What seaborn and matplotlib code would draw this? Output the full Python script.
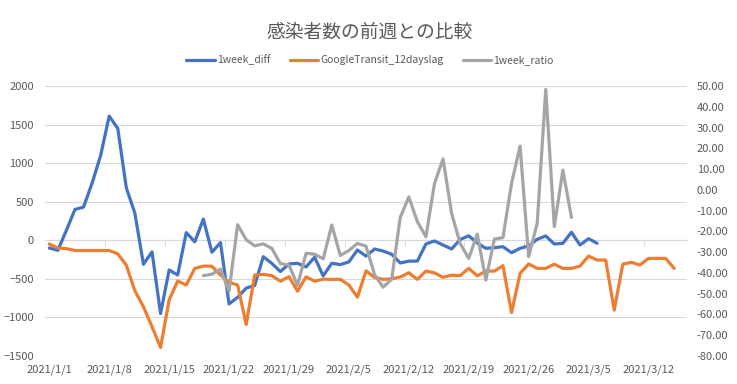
import numpy as np
import pandas as pd
import matplotlib
matplotlib.use("Agg")
import matplotlib.pyplot as plt
import matplotlib.dates as mdates
from matplotlib.ticker import FuncFormatter
import seaborn as sns

# -------------------------------
# Data
# -------------------------------
title = "感染者数の前週との比較"

# 1week_diff : 2021/1/1 - 2021/3/6 (left axis)
diff_start = "2021-01-01"
week_diff = [-100, -130, 130, 400, 430, 740, 1100, 1610, 1450, 680,
             350, -310, -150, -950, -385, -450, 100, -20, 275, -155,
             -30, -825, -740, -620, -585, -212, -300, -405, -307, -298,
             -345, -220, -462, -298, -315, -280, -126, -205, -113, -139,
             -181, -294, -270, -270, -48, -9, -61, -113, 10, 58,
             -35, -104, -96, -83, -161, -104, -74, 13, 56, -48,
             -39, 104, -61, 21, -39]

# GoogleTransit_12dayslag : 2021/1/1 - 2021/3/15 (right axis)
transit_start = "2021-01-01"
transit_lag = [-26.1, -28.0, -28.3, -29.2, -29.2, -29.2, -29.2, -29.2, -30.8, -36.3,
               -48.6, -56.3, -65.9, -75.9, -53.0, -43.9, -45.8, -37.8, -36.7, -36.8,
               -41.0, -44.5, -45.8, -64.8, -41.0, -40.7, -41.3, -44.0, -41.8, -48.8,
               -41.9, -44.0, -43.0, -43.1, -43.1, -45.8, -51.7, -39.0, -42.2, -43.1,
               -42.8, -42.0, -39.9, -43.1, -39.1, -40.0, -42.1, -41.1, -41.3, -37.8,
               -41.4, -39.1, -39.1, -36.5, -59.1, -40.2, -35.7, -37.8, -37.8, -35.8,
               -37.8, -37.8, -36.7, -31.9, -33.8, -33.8, -57.9, -35.8, -34.9, -36.2,
               -33.0, -33.0, -33.0, -37.8]

# 1week_ratio : 2021/1/19 - 2021/3/3 (right axis)
ratio_start = "2021-01-19"
week_ratio = [-41.3, -40.6, -38.2, -48.9, -16.8, -24.0, -27.0, -26.0, -28.2, -35.5,
              -36.2, -46.0, -30.5, -31.0, -33.2, -16.9, -31.6, -29.2, -25.8, -27.1,
              -40.8, -46.9, -43.0, -13.3, -3.4, -15.3, -22.6, 3.0, 14.9, -11.3,
              -25.8, -33.0, -21.3, -43.4, -23.7, -23.0, 3.1, 21.1, -32.2, -16.1,
              48.4, -17.7, 9.5, -13.3]

series_names = ["1week_diff", "GoogleTransit_12dayslag", "1week_ratio"]
colors = ["#4472C4", "#ED7D31", "#A5A5A5"]

left_ticks = np.arange(-1500, 2001, 500)
right_ticks = np.arange(-80, 51, 10)
axis_start = pd.Timestamp("2021-01-01")
n_days = 75   # 2021/1/1 .. 2021/3/16 on the category axis

df_diff = pd.DataFrame({"date": pd.date_range(diff_start, periods=len(week_diff)),
                        "value": week_diff})
df_transit = pd.DataFrame({"date": pd.date_range(transit_start, periods=len(transit_lag)),
                           "value": transit_lag})
df_ratio = pd.DataFrame({"date": pd.date_range(ratio_start, periods=len(week_ratio)),
                         "value": week_ratio})

# -------------------------------
# Plot
# -------------------------------
sns.set_theme(style="white")
plt.rcParams["font.family"] = ["Noto Sans CJK JP", "DejaVu Sans"]
text_color = "#595959"
grid_color = "#d9d9d9"

fig = plt.figure(figsize=(7.37, 3.84), dpi=100)
fig.subplots_adjust(left=45/737, right=687/737, bottom=1-356/384, top=1-86/384)
ax = fig.add_subplot(111)
ax2 = ax.twinx()

sns.lineplot(data=df_diff, x="date", y="value", ax=ax, color=colors[0],
             linewidth=2.3, label=series_names[0])
sns.lineplot(data=df_transit, x="date", y="value", ax=ax2, color=colors[1],
             linewidth=2.3, label=series_names[1])
sns.lineplot(data=df_ratio, x="date", y="value", ax=ax2, color=colors[2],
             linewidth=2.3, label=series_names[2])

for a in (ax, ax2):
    if a.get_legend() is not None:
        a.get_legend().remove()
    for s in a.spines.values():
        s.set_visible(False)
    a.set_xlabel("")
    a.set_ylabel("")

ax.set_ylim(left_ticks[0], left_ticks[-1])
ax.set_yticks(left_ticks)
ax.yaxis.grid(True, color=grid_color, linewidth=0.8)
ax.set_axisbelow(True)
ax2.set_ylim(right_ticks[0], right_ticks[-1])
ax2.set_yticks(right_ticks)
ax2.yaxis.set_major_formatter(FuncFormatter(lambda v, p: f"{v:.2f}"))
ax2.grid(False)

half = pd.Timedelta(hours=12)
ax.set_xlim(axis_start - half, axis_start + pd.Timedelta(days=n_days - 1) + half)
tick_dates = pd.date_range(axis_start, periods=11, freq="7D")
ax.set_xticks(tick_dates)
ax.set_xticklabels([f"{d.year}/{d.month}/{d.day}" for d in tick_dates])

ax.tick_params(axis="x", length=0, pad=6, labelsize=8, labelcolor=text_color)
ax.tick_params(axis="y", length=0, pad=8, labelsize=8, labelcolor=text_color)
ax2.tick_params(axis="y", length=0, pad=7, labelsize=8, labelcolor=text_color)

# horizontal axis line with tick marks at the zero level
zero_frac = (0 - left_ticks[0]) / (left_ticks[-1] - left_ticks[0])
sec = ax.secondary_xaxis(zero_frac)
sec.set_xticks(mdates.date2num(tick_dates[:-1] + pd.Timedelta(days=6, hours=12)))
sec.set_xticklabels([])
sec.tick_params(axis="x", length=4, width=0.8, color=grid_color)
sec.spines["bottom"].set_color(grid_color)
sec.spines["bottom"].set_linewidth(0.8)

fig.suptitle(title, x=370/737, y=1-22/384, fontsize=13.5, color=text_color)

handles = ax.get_lines()[:1] + ax2.get_lines()[:2]
fig.legend(handles, series_names, loc="center", bbox_to_anchor=(370/737, 1-60/384),
           ncol=3, frameon=False, fontsize=7.5, handlelength=2.7, handletextpad=0.2,
           columnspacing=1.9, labelcolor=text_color)

plt.savefig("out.png", dpi=100)
